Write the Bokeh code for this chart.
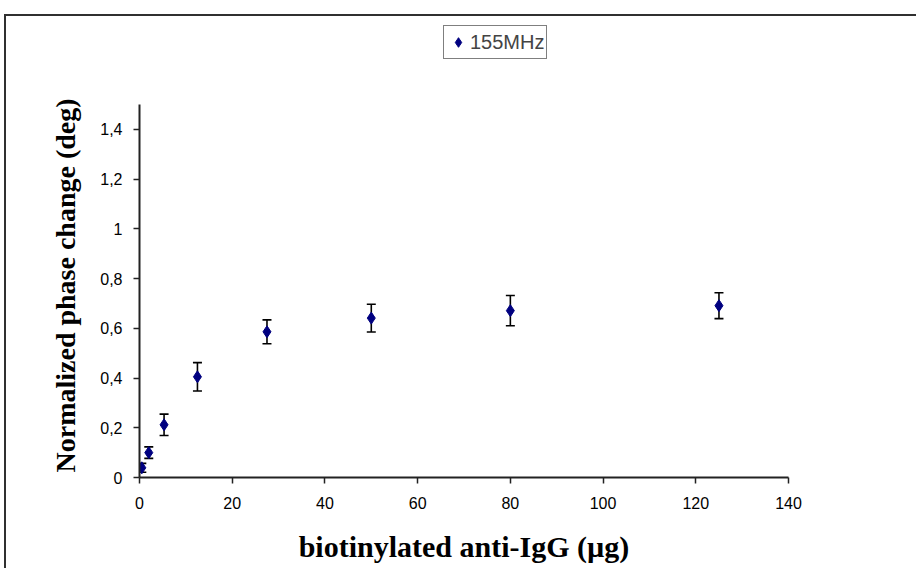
from bokeh.plotting import figure
from bokeh.models import (ColumnDataSource, Whisker, TeeHead, FixedTicker,
                          Legend, LegendItem, Range1d, Title)
from bokeh.embed import file_html
from bokeh.resources import INLINE

# ---- data ----
conc = [0.5, 2.0, 5.3, 12.5, 27.5, 50.0, 80.0, 125.0]          # biotinylated anti-IgG (µg)
phase = [0.039, 0.100, 0.212, 0.405, 0.586, 0.641, 0.671, 0.691]  # normalized phase change (deg)
err = [0.018, 0.023, 0.043, 0.057, 0.048, 0.056, 0.061, 0.052]
series_name = "155MHz"

x_ticks = [0, 20, 40, 60, 80, 100, 120, 140]
y_ticks = [0, 0.2, 0.4, 0.6, 0.8, 1.0, 1.2, 1.4]
y_tick_labels = ["0", "0,2", "0,4", "0,6", "0,8", "1", "1,2", "1,4"]
y_axis_max = 1.5
x_label = "biotinylated anti-IgG (µg)"
y_label = "Normalized phase change (deg)"

src = ColumnDataSource(dict(
    x=conc, y=phase,
    lower=[v - e for v, e in zip(phase, err)],
    upper=[v + e for v, e in zip(phase, err)],
))

# frame spans from canvas top to the x axis; the y axis line stops at 1.5
frame_h = 461
axis_top_px = 88
y_top = y_axis_max * frame_h / (frame_h - axis_top_px)

p = figure(width=912, height=554, output_backend="svg", toolbar_location=None,
           x_range=Range1d(0, 140), y_range=Range1d(0, y_top),
           min_border_left=133, min_border_right=130,
           min_border_top=0, min_border_bottom=93)
p.styles = {"margin-left": "4px", "margin-top": "14px",
            "border-left": "2px solid #303030", "border-top": "2px solid #303030"}
p.outline_line_color = None
p.xgrid.visible = False
p.ygrid.visible = False
p.background_fill_color = "white"
p.border_fill_color = "white"

whisk = Whisker(base="x", lower="lower", upper="upper", source=src,
                line_color="black", line_width=1.6,
                upper_head=TeeHead(size=9, line_color="black", line_width=1.6),
                lower_head=TeeHead(size=9, line_color="black", line_width=1.6))
p.add_layout(whisk)

r = p.scatter("x", "y", source=src, marker="diamond", size=12,
              fill_color="#000080", line_color="#000080", line_width=1)

for ax in (p.xaxis[0], p.yaxis[0]):
    ax.axis_line_color = "#222222"
    ax.axis_line_width = 2
    ax.major_tick_line_color = "#222222"
    ax.major_tick_line_width = 1.5
    ax.major_tick_in = 0
    ax.major_tick_out = 6
    ax.minor_tick_line_color = None
    ax.major_label_text_font = "Liberation Sans"
    ax.major_label_text_font_size = "16px"
    ax.major_label_text_color = "black"

p.xaxis.ticker = FixedTicker(ticks=x_ticks)
p.yaxis.ticker = FixedTicker(ticks=y_ticks)
p.yaxis.bounds = (0, y_axis_max)
p.yaxis.major_label_overrides = {t: l for t, l in zip(y_ticks, y_tick_labels)}
p.xaxis.major_label_standoff = 13
p.yaxis.major_label_standoff = 11

p.xaxis.axis_label = x_label
p.xaxis.axis_label_text_font = "Liberation Serif"
p.xaxis.axis_label_text_font_style = "bold"
p.xaxis.axis_label_text_font_size = "30px"
p.xaxis.axis_label_text_color = "black"
p.xaxis.axis_label_standoff = 18

# y-axis title placed along the axis part of the frame (below the legend area)
ytitle = Title(text=y_label, align="left", offset=5, standoff=34,
               text_font="Liberation Serif", text_font_style="bold",
               text_font_size="28px", text_color="black")
p.add_layout(ytitle, "left")

legend = Legend(items=[LegendItem(label=series_name, renderers=[r])],
                location=(304, 418), orientation="vertical",
                border_line_color="black", border_line_width=1.5,
                background_fill_color="white", background_fill_alpha=1,
                label_text_font="Liberation Sans", label_text_font_size="20px",
                glyph_width=24, glyph_height=28, padding=2, spacing=0,
                margin=0, label_standoff=0)
p.add_layout(legend)

open("out.html", "w").write(file_html(p, INLINE))
